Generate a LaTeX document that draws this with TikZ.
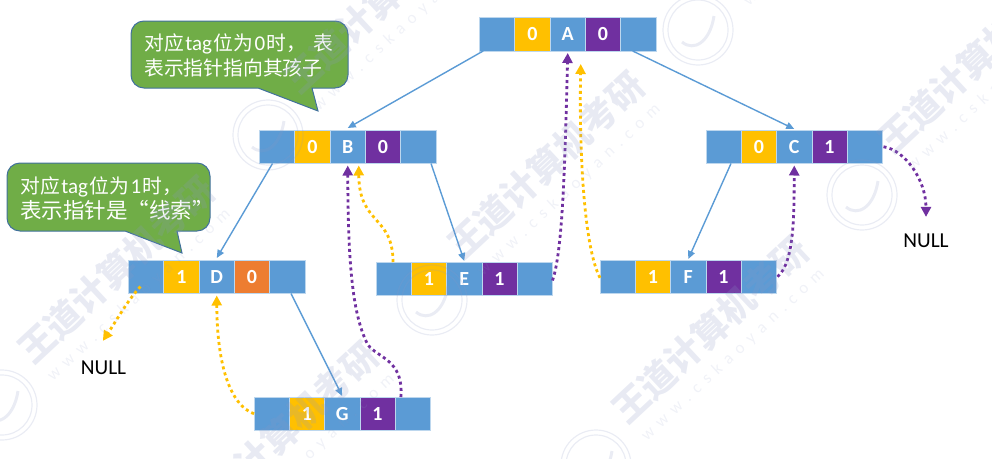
\documentclass[tikz,border=0pt]{standalone}
\usepackage{fontspec}
\setmainfont{Carlito}
\newfontfamily\cjk{Noto Sans CJK SC}
\usetikzlibrary{arrows.meta,positioning,calc}
\definecolor{cellblue}{HTML}{5B9BD5}
\definecolor{cellline}{HTML}{BDD7EE}
\definecolor{tagyellow}{HTML}{FFC000}
\definecolor{tagpurple}{HTML}{7030A0}
\definecolor{tagorange}{HTML}{ED7D31}
\definecolor{tipgreen}{HTML}{70AD47}
\definecolor{tipline}{HTML}{41719C}
\definecolor{wmark}{HTML}{8C98C4}
\newcommand{\ws}{\hspace{7pt}}
\tikzset{
  cell/.style={draw=cellline, line width=0.8pt, fill=cellblue, text=white, inner sep=0pt, outer sep=0pt,
               minimum width=35.3pt, minimum height=33.5pt, font=\fontsize{20}{22}\selectfont\bfseries},
  child/.style={draw=cellblue, line width=1.4pt, -{Triangle[length=8pt,width=7pt]}},
  thread/.style={line width=2.8pt, dash pattern=on 3pt off 3.2pt, -{Triangle[length=10pt,width=10pt]}},
  yel/.style={thread, draw=tagyellow, tagyellow},
  pur/.style={thread, draw=tagpurple, tagpurple},
  tipbox/.style={draw=tipline, fill=tipgreen, line width=1pt},
  tiptext/.style={text=white, align=left, inner sep=0pt, anchor=west, font=\fontsize{21}{25}\selectfont},
  nulltxt/.style={text=black, inner sep=0pt, font=\fontsize{21.3}{23}\selectfont},
  seal/.style={draw=wmark, opacity=.18, line width=1.2pt},
}
% one tree node: name, x, y, ltag, data, rtag, colour of rtag
\newcommand{\tnode}[7]{
  \node[cell,anchor=north west] (#1l) at (#2,#3) {};
  \node[cell,fill=tagyellow,right=0pt of #1l] (#1ltag) {#4};
  \node[cell,right=0pt of #1ltag] (#1d) {#5};
  \node[cell,fill=#7,right=0pt of #1d] (#1rtag) {#6};
  \node[cell,right=0pt of #1rtag] (#1r) {};
}
\newcommand{\zh}[2][19.8]{{\cjk\fontsize{#1}{25}\selectfont #2}}
\begin{document}
\begin{tikzpicture}[x=1pt,y=-1pt]
  \useasboundingbox (0,0) rectangle (992,458);
  \tnode{a}{479.5}{17.5}{0}{A}{0}{tagpurple}
  \tnode{b}{259.5}{130}{0}{B}{0}{tagpurple}
  \tnode{c}{706}{130}{0}{C}{1}{tagpurple}
  \tnode{d}{128.5}{260}{1}{D}{0}{tagorange}
  \tnode{e}{376}{262}{1}{E}{1}{tagpurple}
  \tnode{f}{600}{260}{1}{F}{1}{tagpurple}
  \tnode{g}{254}{397}{1}{G}{1}{tagpurple}
  % children
  \draw[child] ([xshift=-14]al.south) -- ([yshift=2]bd.north);
  \draw[child] ([xshift=12]ar.south west) -- ([yshift=1]cd.north);
  \draw[child] ([xshift=13]bl.south west) -- ([yshift=2]dd.north);
  \draw[child] ([xshift=-5]br.south east) -- ([yshift=1]ed.north);
  \draw[child] ([xshift=25]cl.south west) -- ([yshift=1]fd.north);
  \draw[child] ([xshift=-14]dr.south east) -- ([yshift=1]gd.north);
  % threads
  \node[nulltxt] (nulld) at (103.5,368) {NULL};
  \node[nulltxt] (nullc) at (926,241) {NULL};
  \draw[yel,shorten >=24pt] ([xshift=12,yshift=7]dl.south west) .. controls (128,300) and (118,318) .. ([xshift=9]nulld.north west);
  \draw[yel] (gl.west) .. controls (230,405) and (217,365) .. ([yshift=-2]dd.south);
  \draw[pur] ([xshift=-12]gr.north) .. controls (404,360) and (378,358) .. (368,345) .. controls (352,315) and (348,260) .. ([yshift=-2]bd.south);
  \draw[yel] ([xshift=17]el.north west) .. controls (393,215) and (359,225) .. ([xshift=11,yshift=-2]bd.south);
  \draw[pur] ([yshift=15]er.south east) .. controls (563,250) and (565,160) .. ([yshift=-2]ad.south);
  \draw[yel] ([yshift=-1]fl.west) .. controls (585,250) and (579,160) .. ([xshift=13,yshift=-13]ad.south);
  \draw[pur] ([xshift=1]fr.east) .. controls (795,262) and (794,210) .. ([yshift=-2]cd.south);
  \draw[pur,shorten >=17pt] ([xshift=1]cr.east) .. controls (905,150) and (926,180) .. (nullc.north);
  % tips
  \draw[tipbox,rounded corners=13pt] (240,21) -- (348,21) -- (348,88) [sharp corners] -- (312,88) -- (318,111) -- (258,88) [rounded corners=13pt] -- (131,88) -- (131,21) -- cycle;
  \node[tiptext] (tipa) at (144,55) {\zh{对应}\kern1.5pt tag\kern1.5pt\zh{位为}\kern1.5pt 0\kern1.5pt\zh{时，\hspace{7pt}表}\\\zh{表示指针指向其孩子}};
  \draw[tipbox,rounded corners=13pt] (110,163) -- (210,163) -- (210,231) [sharp corners] -- (177,231) -- (182,253) -- (125,231) [rounded corners=13pt] -- (7,231) -- (7,163) -- cycle;
  \node[tiptext] (tipb) at (20,198) {\zh{对应}\kern1.5pt tag\kern1.5pt\zh{位为}\kern1.5pt 1\kern1.5pt\zh{时，}\\\zh[21.5]{表示指针是“线索”}};
  % watermark
  \begin{scope}
    \clip (0,0) rectangle (992,458);
    \foreach \i/\sx/\sy in {1/2/405,2/268/135,3/432/300,4/596/465,5/698/30,6/862/195}{
      \node[seal,circle,minimum size=70pt,inner sep=0pt] (seal\i) at (\sx,\sy) {};
      \draw[seal] (seal\i) circle (30);
      \draw[seal,line width=3pt] ($(seal\i)+(-16,12)$) .. controls ($(seal\i)+(-4,22)$) and ($(seal\i)+(12,12)$) .. ($(seal\i)+(16,-14)$);
    }
    \foreach \i/\sx/\sy in {1/2/405,2/268/135,3/432/300,4/596/465,5/862/195,6/166/570}{
      \node[text=wmark,opacity=.2,rotate=43,inner sep=0pt,font=\cjk\bfseries\fontsize{36}{36}\selectfont] (wmt\i) at ($(\sx,\sy)+(114,-135)$) {王道计算机考研};
    }
    \foreach \i/\sx/\sy in {1/2/405,2/268/135,3/432/300,4/596/465,5/698/30,6/862/195,7/166/570}{
      \node[text=wmark,opacity=.13,rotate=43,inner sep=0pt,font=\fontsize{17}{17}\selectfont] (wmu\i) at ($(\sx,\sy)+(137,-110)$) {w\ws w\ws w\ws .\ws c\ws s\ws k\ws a\ws o\ws y\ws a\ws n\ws .\ws c\ws o\ws m};
    }
  \end{scope}
\end{tikzpicture}
\end{document}
